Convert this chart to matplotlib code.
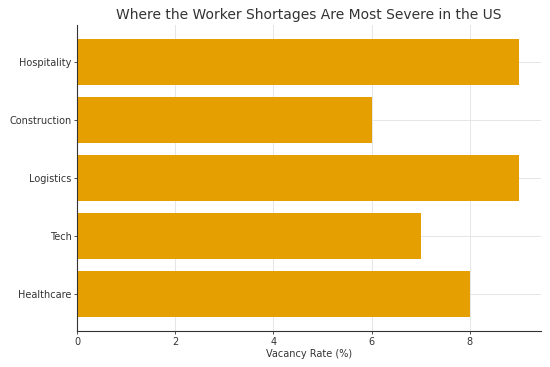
import matplotlib.pyplot as plt

categories = ['Healthcare', 'Tech', 'Logistics', 'Construction', 'Hospitality']
vacancy = [8, 7, 9, 6, 9]

plt.rcParams['font.family'] = 'DejaVu Sans'

fig = plt.figure(figsize=(5.5, 3.67), dpi=100)
ax = fig.add_axes([0.14, 0.098, 0.8436, 0.834])

ax.barh(categories, vacancy, color='#E69F00', height=0.8, zorder=2)

ax.set_title('Where the Worker Shortages Are Most Severe in the US', fontsize=10, color='#333333', pad=4)
ax.set_xlabel('Vacancy Rate (%)', fontsize=7, color='#333333', labelpad=2)
ax.tick_params(labelsize=7, colors='#333333', length=2.5, width=0.6, pad=1.5)
ax.grid(True, color='#e6e6e6', linewidth=0.7, zorder=0)
for s in ['top', 'right']:
    ax.spines[s].set_visible(False)
for s in ['left', 'bottom']:
    ax.spines[s].set_color('#333333')
    ax.spines[s].set_linewidth(0.8)

fig.savefig('out.png', dpi=100)
